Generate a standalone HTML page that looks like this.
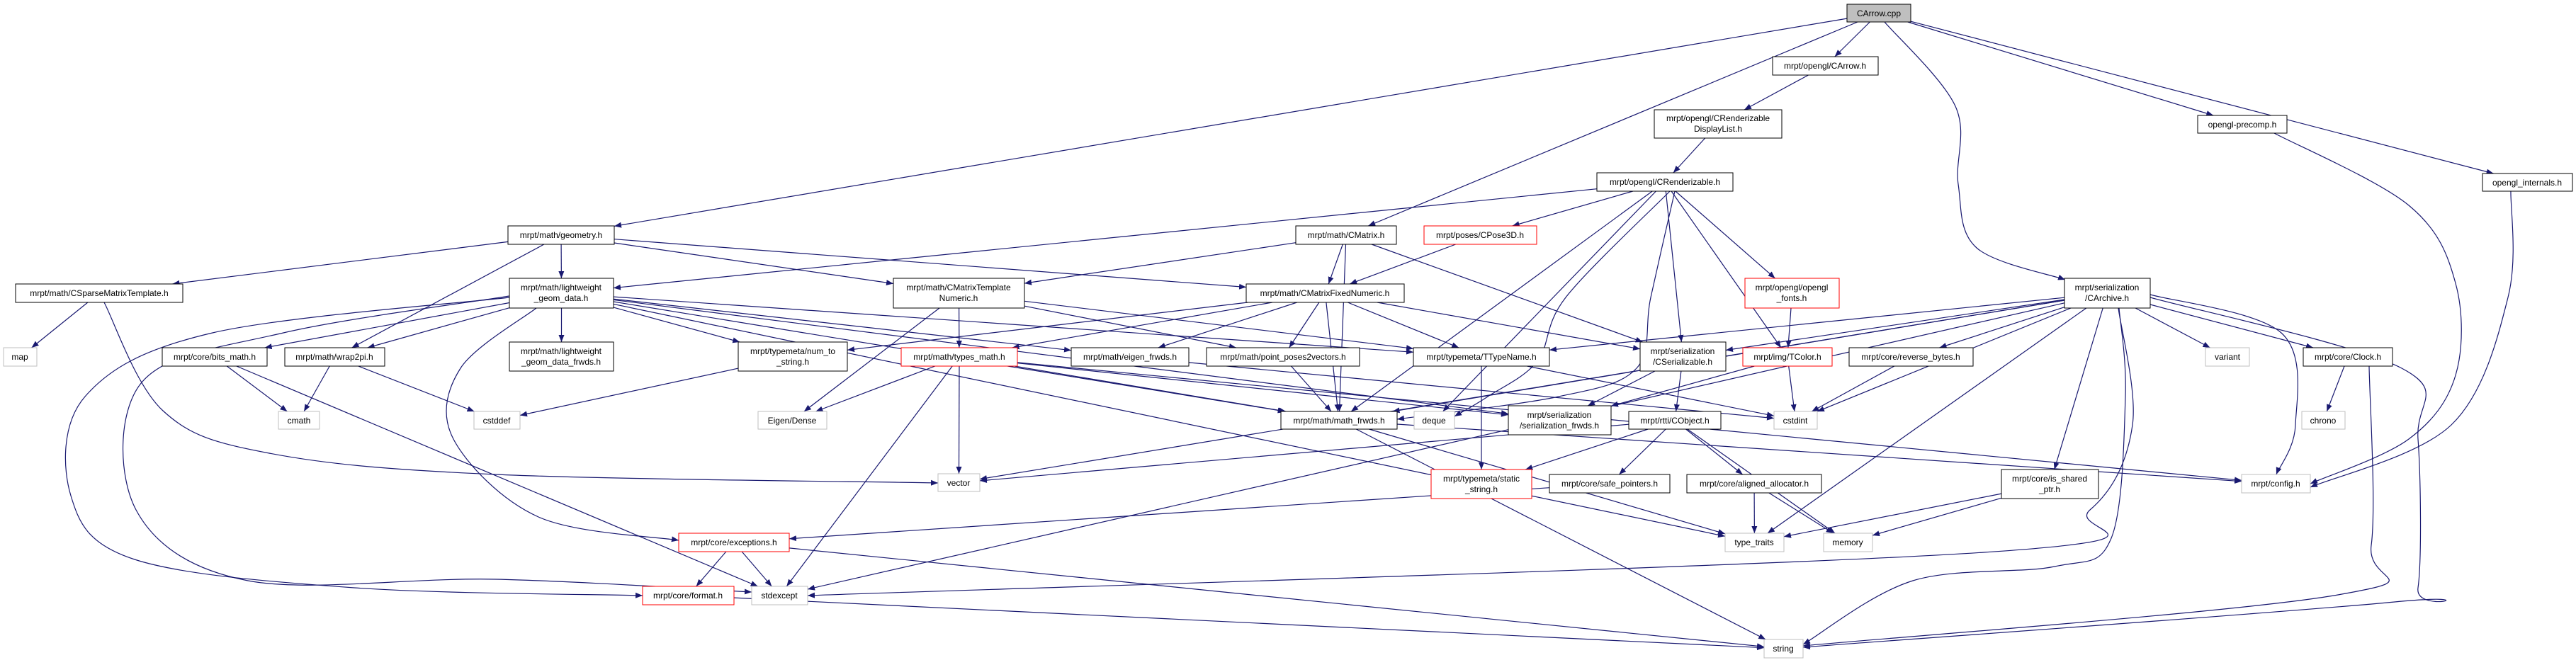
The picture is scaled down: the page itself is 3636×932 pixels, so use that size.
<!DOCTYPE html>
<html><head><meta charset="utf-8">
<style>
html,body{margin:0;padding:0;background:#fff;width:3636px;height:932px;overflow:hidden}
svg{display:block}
text{font-family:"Liberation Sans",sans-serif;font-size:12px;fill:#000}
</style></head>
<body>
<svg id="g" width="3636" height="932" viewBox="0 0 3636 932" xmlns="http://www.w3.org/2000/svg">
<defs>
<marker id="ah" viewBox="0 0 10 10" refX="10" refY="5" markerWidth="10" markerHeight="10" markerUnits="userSpaceOnUse" orient="auto">
<path d="M0,1 L10,5 L0,9 z" fill="#191970"/>
</marker>
</defs>
<g id="edges" fill="none" stroke="#191970" stroke-width="1.2"></g>
<g id="nodes">
<rect x="2607" y="6" width="90" height="25" fill="#bfbfbf" stroke="#000"/><text x="2652" y="23" text-anchor="middle">CArrow.cpp</text>
<rect x="2502" y="80" width="149" height="26" fill="#fff" stroke="#000"/><text x="2576" y="97" text-anchor="middle">mrpt/opengl/CArrow.h</text>
<rect x="2335" y="155" width="180" height="40" fill="#fff" stroke="#000"/><text x="2425" y="171" text-anchor="middle">mrpt/opengl/CRenderizable</text><text x="2425" y="186" text-anchor="middle">DisplayList.h</text>
<rect x="2254" y="244" width="192" height="26" fill="#fff" stroke="#000"/><text x="2350" y="261" text-anchor="middle">mrpt/opengl/CRenderizable.h</text>
<rect x="3102" y="163" width="126" height="25" fill="#fff" stroke="#000"/><text x="3165" y="180" text-anchor="middle">opengl-precomp.h</text>
<rect x="3504" y="245" width="127" height="25" fill="#fff" stroke="#000"/><text x="3567" y="262" text-anchor="middle">opengl_internals.h</text>
<rect x="717" y="319" width="150" height="26" fill="#fff" stroke="#000"/><text x="792" y="336" text-anchor="middle">mrpt/math/geometry.h</text>
<rect x="1829" y="319" width="142" height="26" fill="#fff" stroke="#000"/><text x="1900" y="336" text-anchor="middle">mrpt/math/CMatrix.h</text>
<rect x="2010" y="319" width="159" height="26" fill="#fff" stroke="#f00"/><text x="2089" y="336" text-anchor="middle">mrpt/poses/CPose3D.h</text>
<rect x="22" y="401" width="236" height="26" fill="#fff" stroke="#000"/><text x="140" y="418" text-anchor="middle">mrpt/math/CSparseMatrixTemplate.h</text>
<rect x="719" y="393" width="147" height="42" fill="#fff" stroke="#000"/><text x="792" y="410" text-anchor="middle">mrpt/math/lightweight</text><text x="792" y="425" text-anchor="middle">_geom_data.h</text>
<rect x="1261" y="393" width="185" height="42" fill="#fff" stroke="#000"/><text x="1353" y="410" text-anchor="middle">mrpt/math/CMatrixTemplate</text><text x="1353" y="425" text-anchor="middle">Numeric.h</text>
<rect x="1759" y="401" width="223" height="26" fill="#fff" stroke="#000"/><text x="1870" y="418" text-anchor="middle">mrpt/math/CMatrixFixedNumeric.h</text>
<rect x="2463" y="393" width="133" height="42" fill="#fff" stroke="#f00"/><text x="2529" y="410" text-anchor="middle">mrpt/opengl/opengl</text><text x="2529" y="425" text-anchor="middle">_fonts.h</text>
<rect x="2914" y="393" width="121" height="42" fill="#fff" stroke="#000"/><text x="2974" y="410" text-anchor="middle">mrpt/serialization</text><text x="2974" y="425" text-anchor="middle">/CArchive.h</text>
<rect x="5" y="491" width="47" height="26" fill="#fff" stroke="#bfbfbf"/><text x="28" y="508" text-anchor="middle">map</text>
<rect x="229" y="491" width="148" height="26" fill="#fff" stroke="#000"/><text x="303" y="508" text-anchor="middle">mrpt/core/bits_math.h</text>
<rect x="402" y="491" width="141" height="26" fill="#fff" stroke="#000"/><text x="472" y="508" text-anchor="middle">mrpt/math/wrap2pi.h</text>
<rect x="719" y="483" width="147" height="41" fill="#fff" stroke="#000"/><text x="792" y="500" text-anchor="middle">mrpt/math/lightweight</text><text x="792" y="515" text-anchor="middle">_geom_data_frwds.h</text>
<rect x="1042" y="483" width="154" height="41" fill="#fff" stroke="#000"/><text x="1119" y="500" text-anchor="middle">mrpt/typemeta/num_to</text><text x="1119" y="515" text-anchor="middle">_string.h</text>
<rect x="1272" y="491" width="164" height="26" fill="#fff" stroke="#f00"/><text x="1354" y="508" text-anchor="middle">mrpt/math/types_math.h</text>
<rect x="1512" y="491" width="166" height="26" fill="#fff" stroke="#000"/><text x="1595" y="508" text-anchor="middle">mrpt/math/eigen_frwds.h</text>
<rect x="1703" y="491" width="216" height="26" fill="#fff" stroke="#000"/><text x="1811" y="508" text-anchor="middle">mrpt/math/point_poses2vectors.h</text>
<rect x="1995" y="491" width="192" height="26" fill="#fff" stroke="#000"/><text x="2091" y="508" text-anchor="middle">mrpt/typemeta/TTypeName.h</text>
<rect x="2315" y="483" width="121" height="41" fill="#fff" stroke="#000"/><text x="2375" y="500" text-anchor="middle">mrpt/serialization</text><text x="2375" y="515" text-anchor="middle">/CSerializable.h</text>
<rect x="2460" y="491" width="126" height="26" fill="#fff" stroke="#f00"/><text x="2523" y="508" text-anchor="middle">mrpt/img/TColor.h</text>
<rect x="2610" y="491" width="175" height="26" fill="#fff" stroke="#000"/><text x="2697" y="508" text-anchor="middle">mrpt/core/reverse_bytes.h</text>
<rect x="3113" y="491" width="62" height="26" fill="#fff" stroke="#bfbfbf"/><text x="3144" y="508" text-anchor="middle">variant</text>
<rect x="3251" y="491" width="126" height="26" fill="#fff" stroke="#000"/><text x="3314" y="508" text-anchor="middle">mrpt/core/Clock.h</text>
<rect x="393" y="581" width="58" height="25" fill="#fff" stroke="#bfbfbf"/><text x="422" y="598" text-anchor="middle">cmath</text>
<rect x="669" y="581" width="65" height="25" fill="#fff" stroke="#bfbfbf"/><text x="701" y="598" text-anchor="middle">cstddef</text>
<rect x="1070" y="581" width="97" height="25" fill="#fff" stroke="#bfbfbf"/><text x="1118" y="598" text-anchor="middle">Eigen/Dense</text>
<rect x="1808" y="581" width="164" height="25" fill="#fff" stroke="#000"/><text x="1890" y="598" text-anchor="middle">mrpt/math/math_frwds.h</text>
<rect x="1996" y="581" width="57" height="25" fill="#fff" stroke="#bfbfbf"/><text x="2024" y="598" text-anchor="middle">deque</text>
<rect x="2129" y="573" width="145" height="41" fill="#fff" stroke="#000"/><text x="2201" y="590" text-anchor="middle">mrpt/serialization</text><text x="2201" y="605" text-anchor="middle">/serialization_frwds.h</text>
<rect x="2299" y="581" width="130" height="25" fill="#fff" stroke="#000"/><text x="2364" y="598" text-anchor="middle">mrpt/rtti/CObject.h</text>
<rect x="2504" y="581" width="61" height="25" fill="#fff" stroke="#bfbfbf"/><text x="2534" y="598" text-anchor="middle">cstdint</text>
<rect x="3249" y="581" width="61" height="25" fill="#fff" stroke="#bfbfbf"/><text x="3279" y="598" text-anchor="middle">chrono</text>
<rect x="1324" y="669" width="59" height="25" fill="#fff" stroke="#bfbfbf"/><text x="1353" y="686" text-anchor="middle">vector</text>
<rect x="2020" y="663" width="142" height="41" fill="#fff" stroke="#f00"/><text x="2091" y="680" text-anchor="middle">mrpt/typemeta/static</text><text x="2091" y="695" text-anchor="middle">_string.h</text>
<rect x="2187" y="670" width="170" height="26" fill="#fff" stroke="#000"/><text x="2272" y="687" text-anchor="middle">mrpt/core/safe_pointers.h</text>
<rect x="2381" y="670" width="190" height="26" fill="#fff" stroke="#000"/><text x="2476" y="687" text-anchor="middle">mrpt/core/aligned_allocator.h</text>
<rect x="2825" y="663" width="137" height="41" fill="#fff" stroke="#000"/><text x="2893" y="680" text-anchor="middle">mrpt/core/is_shared</text><text x="2893" y="695" text-anchor="middle">_ptr.h</text>
<rect x="3164" y="670" width="97" height="26" fill="#fff" stroke="#bfbfbf"/><text x="3212" y="687" text-anchor="middle">mrpt/config.h</text>
<rect x="958" y="753" width="156" height="26" fill="#fff" stroke="#f00"/><text x="1036" y="770" text-anchor="middle">mrpt/core/exceptions.h</text>
<rect x="2435" y="753" width="83" height="26" fill="#fff" stroke="#bfbfbf"/><text x="2476" y="770" text-anchor="middle">type_traits</text>
<rect x="2574" y="753" width="69" height="26" fill="#fff" stroke="#bfbfbf"/><text x="2608" y="770" text-anchor="middle">memory</text>
<rect x="907" y="828" width="129" height="26" fill="#fff" stroke="#f00"/><text x="971" y="845" text-anchor="middle">mrpt/core/format.h</text>
<rect x="1061" y="828" width="79" height="26" fill="#fff" stroke="#bfbfbf"/><text x="1100" y="845" text-anchor="middle">stdexcept</text>
<rect x="2490" y="903" width="55" height="26" fill="#fff" stroke="#bfbfbf"/><text x="2517" y="920" text-anchor="middle">string</text>
</g>
</svg>
<script>
(function(){
var N={
root:[2607,6,90,25],arrow:[2502,80,149,26],disp:[2335,155,180,40],rend:[2254,244,192,26],
pre:[3102,163,126,25],intl:[3504,245,127,25],geo:[717,319,150,26],cmat:[1829,319,142,26],
pose:[2010,319,159,26],sparse:[22,401,236,26],lw:[719,393,147,42],ctn:[1261,393,185,42],
cfn:[1759,401,223,26],fonts:[2463,393,133,42],arch:[2914,393,121,42],map:[5,491,47,26],
bits:[229,491,148,26],wrap:[402,491,141,26],lwf:[719,483,147,41],nts:[1042,483,154,41],
tm:[1272,491,164,26],ef:[1512,491,166,26],pp:[1703,491,216,26],ttn:[1995,491,192,26],
cser:[2315,483,121,41],tcol:[2460,491,126,26],rb:[2610,491,175,26],variant:[3113,491,62,26],
clock:[3251,491,126,26],cmath:[393,581,58,25],cstddef:[669,581,65,25],eigen:[1070,581,97,25],
mf:[1808,581,164,25],deque:[1996,581,57,25],sf:[2129,573,145,41],cobj:[2299,581,130,25],
cstdint:[2504,581,61,25],chrono:[3249,581,61,25],vector:[1324,669,59,25],ss:[2020,663,142,41],
sp:[2187,670,170,26],aa:[2381,670,190,26],isp:[2825,663,137,41],config:[3164,670,97,26],
exc:[958,753,156,26],tt:[2435,753,83,26],memory:[2574,753,69,26],fmt:[907,828,129,26],
stdexc:[1061,828,79,26],string:[2490,903,55,26]};
var E=[
['root','arrow'],['root','geo'],['root','cmat'],['root','pre'],['root','intl'],
['arrow','disp'],['disp','rend'],
['rend','lw'],['rend','pose'],['rend','cser'],['rend','fonts'],['rend','tcol'],['rend','mf'],['rend','deque'],
['geo','sparse'],['geo','lw'],['geo','ctn'],['geo','cfn'],['geo','wrap'],
['sparse','map'],
['lw','bits'],['lw','wrap'],['lw','lwf'],['lw','ttn'],['lw','ef'],['lw','mf'],['lw','tt'],['lw','sf'],['lw','nts'],
['bits','cmath'],['bits','stdexc'],['wrap','cmath'],['wrap','cstddef'],['nts','cstddef'],
['ctn','tm'],['ctn','ttn'],['ctn','pp'],['ctn','eigen'],
['cfn','tm'],['cfn','ef'],['cfn','pp'],['cfn','ttn'],['cfn','cser'],['cfn','mf'],['cfn','nts'],
['cmat','ctn'],['cmat','cfn'],['cmat','cser'],['cmat','mf'],['pose','cfn'],
['tm','vector'],['tm','eigen'],['tm','stdexc'],['tm','mf'],['tm','sf'],['tm','config'],
['pp','mf'],['ttn','ss'],['ttn','cstdint'],['ef','cstdint'],
['cser','sf'],['cser','cobj'],
['cobj','vector'],['cobj','ss'],['cobj','sp'],['cobj','aa'],['cobj','memory'],
['sp','exc'],['aa','tt'],['aa','memory'],
['exc','fmt'],['exc','stdexc'],['exc','string'],['fmt','string'],
['mf','config'],['mf','tt'],['mf','string'],
['fonts','tcol'],['tcol','cstdint'],['tcol','sf'],
['arch','cser'],['arch','ttn'],['arch','rb'],['arch','variant'],['arch','clock'],['arch','cstdint'],['arch','vector'],['arch','tt'],['arch','isp'],['arch','stdexc'],['arch','mf'],
['rb','cstdint'],['clock','chrono'],
['isp','tt'],['isp','memory']];
var C=[
[[2660,31],[2760,150],[2764,260],[2790,350],[2915,395]],
[[719,420],[300,470],[120,560],[100,700],[190,790],[500,830],[907,841]],
[[719,418],[400,470],[200,540],[192,720],[350,820],[700,818],[1061,836]],
[[147,427],[230,580],[380,640],[700,670],[1324,682]],
[[757,435],[650,520],[640,620],[760,730],[958,763]],
[[2364,270],[2330,420],[2310,520],[2200,560],[1972,592]],
[[3035,416],[3220,470],[3240,600],[3213,670]],
[[3035,420],[3390,520],[3413,620],[3413,830],[3380,850],[2545,914]],
[[3344,517],[3347,770],[3300,840],[2545,912]],
[[3210,188],[3400,290],[3466,400],[3466,530],[3400,620],[3261,683]],
[[3544,270],[3540,420],[3460,600],[3261,688]],
[[2991,435],[3000,560],[2980,760],[2900,800],[2700,820],[2545,910]],
[[2990,435],[3010,600],[2950,720],[2800,780],[1140,841]],
[[2357,270],[2210,420],[2170,510],[2100,560],[2053,588]]
];
function c(n){var r=N[n];return [r[0]+r[2]/2,r[1]+r[3]/2];}
function clip(r,cx,cy,dx,dy){var hx=r[2]/2,hy=r[3]/2;var t=Math.min(dx?hx/Math.abs(dx):1e9,dy?hy/Math.abs(dy):1e9);return [cx+dx*t,cy+dy*t];}
var g=document.getElementById('edges'),s='';
E.forEach(function(e){var a=N[e[0]],b=N[e[1]];var p=c(e[0]),q=c(e[1]);
var dx=q[0]-p[0],dy=q[1]-p[1];
var s1=clip(a,p[0],p[1],dx,dy),s2=clip(b,q[0],q[1],-dx,-dy);
s+='<path d="M'+s1[0].toFixed(1)+','+s1[1].toFixed(1)+' L'+s2[0].toFixed(1)+','+s2[1].toFixed(1)+'" marker-end="url(#ah)"/>';});
C.forEach(function(P){
var d='M'+P[0][0]+','+P[0][1];
for(var i=0;i<P.length-1;i++){
var p0=P[i-1]||P[i],p1=P[i],p2=P[i+1],p3=P[i+2]||P[i+1];
var c1x=p1[0]+(p2[0]-p0[0])/6,c1y=p1[1]+(p2[1]-p0[1])/6;
var c2x=p2[0]-(p3[0]-p1[0])/6,c2y=p2[1]-(p3[1]-p1[1])/6;
d+=' C'+c1x.toFixed(1)+','+c1y.toFixed(1)+' '+c2x.toFixed(1)+','+c2y.toFixed(1)+' '+p2[0]+','+p2[1];}
s+='<path d="'+d+'" marker-end="url(#ah)"/>';});
g.innerHTML=s;
})();
</script>
</body></html>
